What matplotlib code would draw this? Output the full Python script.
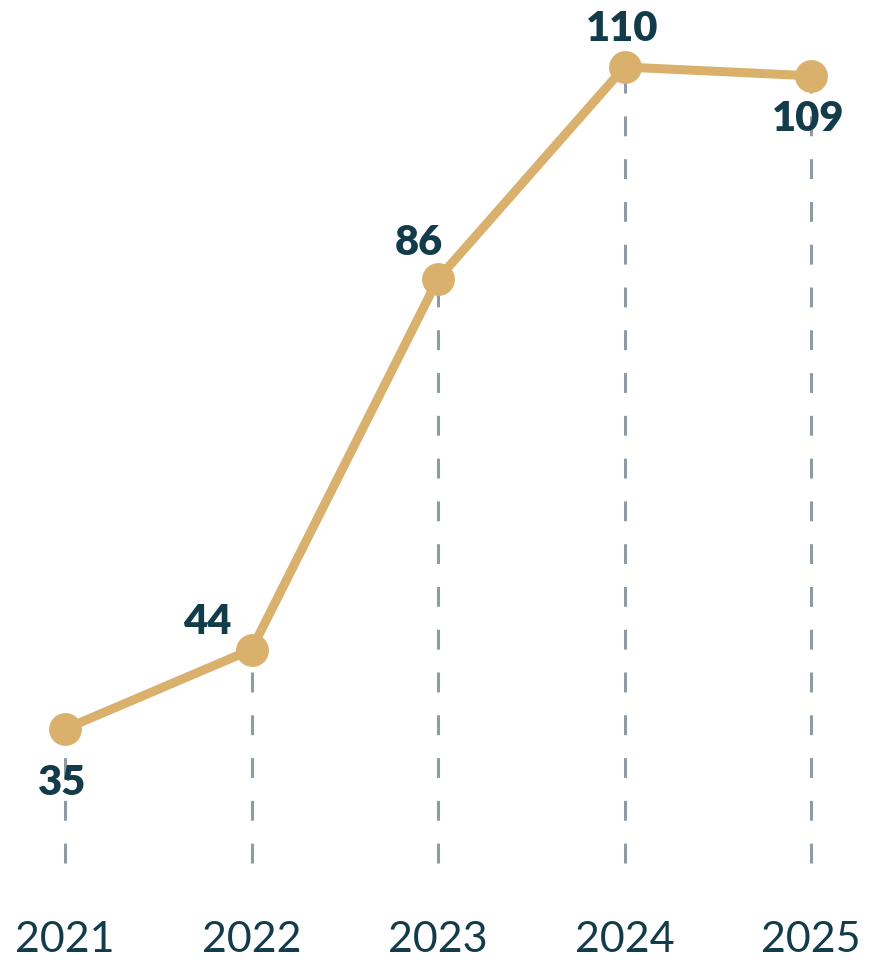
import matplotlib.pyplot as plt

years = ['2021', '2022', '2023', '2024', '2025']
values = [35, 44, 86, 110, 109]

# label offsets (points) for each value label
label_offsets = [(-2, -39), (-32, 20), (-14, 26), (-2, 27), (-2, -31)]

LINE_COLOR = '#d9b16d'
TEXT_COLOR = '#133c4b'
DASH_COLOR = '#8d9ca4'

fig = plt.figure(figsize=(8.72, 9.67), dpi=100)
ax = fig.add_axes([0, 0, 1, 1])
ax.set_xlim(-0.3485, 4.327)
ax.set_ylim(8.04, 117.59)
ax.axis('off')

x = list(range(len(years)))
base = 19.8

# dashed drop lines from each point down to the baseline
for xi, v in zip(x, values):
    ax.plot([xi, xi], [base, v], color=DASH_COLOR, lw=2.2,
            dashes=(6.5, 7.5), zorder=1)

ax.plot(x, values, color=LINE_COLOR, lw=6.5, solid_capstyle='round', zorder=2)
ax.scatter(x, values, s=560, color=LINE_COLOR, zorder=3, linewidths=0)

for xi, v, off in zip(x, values, label_offsets):
    ax.annotate(str(v), (xi, v), xytext=off, textcoords='offset points',
                ha='center', va='center', fontsize=30, fontweight='heavy',
                family='Lato', color=TEXT_COLOR)

for xi, yr in zip(x, years):
    ax.text(xi, 11.15, yr, ha='center', va='center', fontsize=31,
            family='Lato', color=TEXT_COLOR)

fig.savefig('out.png', dpi=100)
